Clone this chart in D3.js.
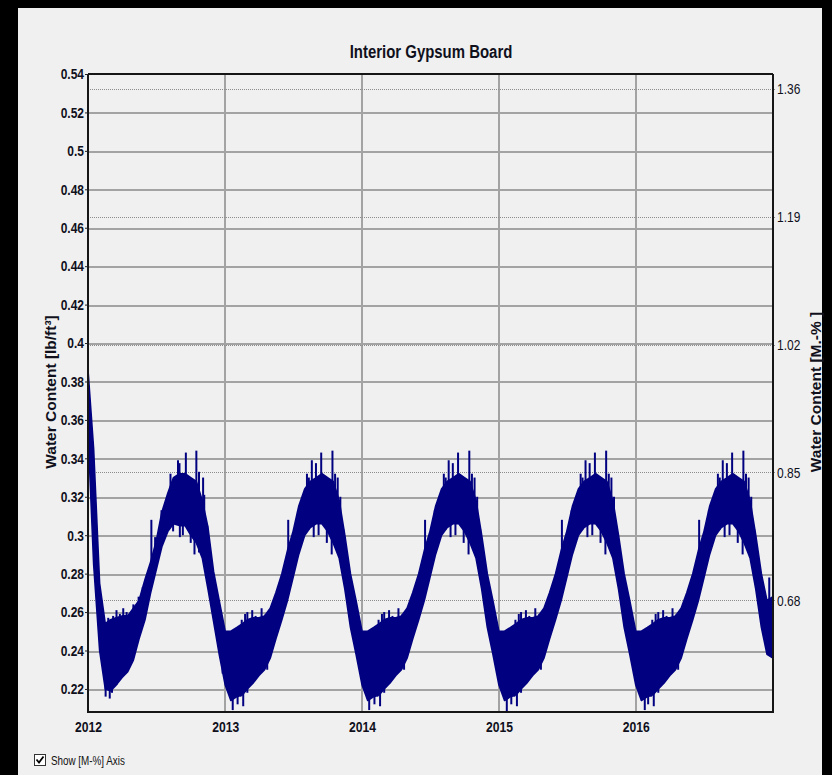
<!DOCTYPE html>
<html>
<head>
<meta charset="utf-8">
<script src="https://cdn.jsdelivr.net/npm/d3@7"></script>
<style>
  html, body { margin: 0; padding: 0; background: #000; }
  svg { display: block; }
</style>
</head>
<body>
<svg id="chart" width="832" height="775"></svg>
<script>
// ---- data -------------------------------------------------------------
const chartTitle = "Interior Gypsum Board";
const leftAxisTitle = "Water Content [lb/ft\u00B3]";
const rightAxisTitle = "Water Content [M.-% ]";
const checkboxLabel = "Show [M-%] Axis";

const years = [2012, 2013, 2014, 2015, 2016];
const yTicks = [0.22, 0.24, 0.26, 0.28, 0.3, 0.32, 0.34, 0.36, 0.38, 0.4, 0.42, 0.44, 0.46, 0.48, 0.5, 0.52, 0.54];
const massTicks = [0.68, 0.85, 1.02, 1.19, 1.36];
const massFactor = 2.555; // M.-% per lb/ft³

// band of the hourly water content: low / high envelope at the 1st and 16th of each month
const lo2012 = [0.355, 0.285, 0.240, 0.220, 0.219, 0.222, 0.226, 0.229, 0.235, 0.246, 0.256, 0.270, 0.282, 0.294, 0.302, 0.306, 0.305, 0.305, 0.300, 0.296, 0.288, 0.272, 0.255, 0.238];
const hi2012 = [0.386, 0.345, 0.275, 0.254, 0.256, 0.257, 0.258, 0.258, 0.262, 0.266, 0.277, 0.286, 0.297, 0.312, 0.322, 0.330, 0.332, 0.332, 0.330, 0.328, 0.318, 0.304, 0.281, 0.266];
const lo2013 = [0.222, 0.214, 0.216, 0.217, 0.220, 0.223, 0.227, 0.230, 0.236, 0.246, 0.256, 0.266, 0.278, 0.290, 0.300, 0.304, 0.306, 0.306, 0.302, 0.296, 0.288, 0.272, 0.252, 0.238];
const hi2013 = [0.250, 0.250, 0.252, 0.254, 0.256, 0.257, 0.257, 0.258, 0.262, 0.270, 0.280, 0.292, 0.302, 0.315, 0.324, 0.328, 0.330, 0.332, 0.330, 0.328, 0.318, 0.300, 0.280, 0.266];
const lo2014 = [0.222, 0.214, 0.216, 0.217, 0.220, 0.223, 0.227, 0.230, 0.236, 0.246, 0.256, 0.266, 0.278, 0.290, 0.300, 0.304, 0.306, 0.306, 0.302, 0.296, 0.288, 0.272, 0.252, 0.238];
const hi2014 = [0.250, 0.250, 0.252, 0.254, 0.256, 0.257, 0.257, 0.258, 0.262, 0.270, 0.280, 0.292, 0.302, 0.315, 0.324, 0.328, 0.330, 0.332, 0.330, 0.328, 0.318, 0.300, 0.280, 0.266];
const lo2015 = [0.222, 0.214, 0.216, 0.217, 0.220, 0.223, 0.227, 0.230, 0.236, 0.246, 0.256, 0.266, 0.278, 0.290, 0.300, 0.304, 0.306, 0.306, 0.302, 0.296, 0.288, 0.272, 0.252, 0.238];
const hi2015 = [0.250, 0.250, 0.252, 0.254, 0.256, 0.257, 0.257, 0.258, 0.262, 0.270, 0.280, 0.292, 0.302, 0.315, 0.324, 0.328, 0.330, 0.332, 0.330, 0.328, 0.318, 0.300, 0.280, 0.266];
const lo2016 = [0.222, 0.214, 0.216, 0.217, 0.220, 0.223, 0.227, 0.230, 0.236, 0.246, 0.256, 0.266, 0.278, 0.290, 0.300, 0.304, 0.306, 0.306, 0.302, 0.296, 0.288, 0.272, 0.252, 0.238];
const hi2016 = [0.250, 0.250, 0.252, 0.254, 0.256, 0.257, 0.257, 0.258, 0.262, 0.270, 0.280, 0.292, 0.302, 0.315, 0.324, 0.328, 0.330, 0.332, 0.330, 0.328, 0.318, 0.300, 0.280, 0.266];
const endDate = "2017-01-01";
const endLo = 0.236;
const endHi = 0.268;

// short excursions beyond the band, [month-day, value] per year
const spikes2012 = [["02-17", 0.216], ["02-24", 0.257], ["02-28", 0.215], ["03-05", 0.218], ["03-08", 0.258], ["03-17", 0.261], ["03-17", 0.222], ["03-26", 0.259], ["04-04", 0.262], ["04-08", 0.228], ["04-13", 0.260], ["04-22", 0.259], ["05-01", 0.264], ["05-15", 0.268], ["05-26", 0.273], ["06-18", 0.308], ["06-28", 0.299], ["07-15", 0.313], ["07-30", 0.320], ["08-08", 0.332], ["08-15", 0.328], ["08-15", 0.302], ["08-28", 0.339], ["09-01", 0.3375], ["09-02", 0.299], ["09-10", 0.332], ["09-10", 0.300], ["09-18", 0.343], ["09-24", 0.330], ["10-01", 0.296], ["10-03", 0.327], ["10-11", 0.290], ["10-16", 0.344], ["10-23", 0.291], ["10-23", 0.333], ["11-03", 0.330], ["11-06", 0.321], ["11-14", 0.305], ["12-25", 0.228]];
const spikes2013 = [["01-21", 0.209], ["01-28", 0.216], ["02-03", 0.212], ["02-11", 0.216], ["02-14", 0.256], ["02-18", 0.211], ["02-23", 0.259], ["03-01", 0.260], ["03-01", 0.218], ["03-14", 0.261], ["03-14", 0.223], ["03-23", 0.258], ["04-01", 0.228], ["04-08", 0.262], ["04-19", 0.259], ["04-23", 0.230], ["05-02", 0.260], ["05-15", 0.268], ["05-24", 0.273], ["06-18", 0.308], ["06-28", 0.299], ["07-14", 0.313], ["07-29", 0.320], ["08-07", 0.332], ["08-12", 0.330], ["08-12", 0.303], ["08-20", 0.339], ["08-25", 0.299], ["08-31", 0.3375], ["09-07", 0.330], ["09-07", 0.300], ["09-14", 0.343], ["09-20", 0.331], ["09-29", 0.296], ["10-04", 0.327], ["10-12", 0.290], ["10-14", 0.344], ["10-21", 0.332], ["10-26", 0.292], ["10-28", 0.330], ["11-04", 0.320], ["11-12", 0.303]];
const spikes2014 = [["01-20", 0.209], ["01-28", 0.216], ["02-03", 0.212], ["02-11", 0.216], ["02-14", 0.256], ["02-18", 0.211], ["02-23", 0.259], ["03-01", 0.260], ["03-01", 0.218], ["03-14", 0.261], ["03-14", 0.223], ["03-23", 0.258], ["04-01", 0.228], ["04-08", 0.262], ["04-19", 0.259], ["04-23", 0.230], ["05-02", 0.260], ["05-15", 0.268], ["05-24", 0.273], ["06-18", 0.308], ["06-28", 0.299], ["07-14", 0.313], ["07-29", 0.320], ["08-07", 0.332], ["08-12", 0.330], ["08-12", 0.303], ["08-20", 0.339], ["08-25", 0.299], ["08-31", 0.3375], ["09-07", 0.330], ["09-07", 0.300], ["09-14", 0.343], ["09-20", 0.331], ["09-29", 0.296], ["10-04", 0.327], ["10-12", 0.290], ["10-14", 0.344], ["10-21", 0.332], ["10-26", 0.292], ["10-28", 0.330], ["11-04", 0.320], ["11-12", 0.303]];
const spikes2015 = [["01-22", 0.208], ["01-28", 0.216], ["02-03", 0.212], ["02-11", 0.216], ["02-14", 0.256], ["02-18", 0.211], ["02-23", 0.259], ["03-01", 0.260], ["03-01", 0.218], ["03-14", 0.261], ["03-14", 0.223], ["03-23", 0.258], ["04-01", 0.228], ["04-08", 0.262], ["04-19", 0.259], ["04-23", 0.230], ["05-02", 0.260], ["05-15", 0.268], ["05-24", 0.273], ["06-18", 0.308], ["06-28", 0.299], ["07-14", 0.313], ["07-29", 0.320], ["08-07", 0.332], ["08-12", 0.330], ["08-12", 0.303], ["08-20", 0.339], ["08-25", 0.299], ["08-31", 0.3375], ["09-07", 0.330], ["09-07", 0.300], ["09-14", 0.343], ["09-20", 0.331], ["09-29", 0.296], ["10-04", 0.327], ["10-12", 0.290], ["10-14", 0.344], ["10-21", 0.332], ["10-26", 0.292], ["10-28", 0.330], ["11-04", 0.320], ["11-12", 0.303]];
const spikes2016 = [["01-25", 0.209], ["01-28", 0.216], ["02-03", 0.212], ["02-11", 0.216], ["02-14", 0.256], ["02-18", 0.211], ["02-23", 0.259], ["03-01", 0.260], ["03-01", 0.218], ["03-14", 0.261], ["03-14", 0.223], ["03-23", 0.258], ["04-01", 0.228], ["04-08", 0.262], ["04-19", 0.259], ["04-23", 0.230], ["05-02", 0.260], ["05-15", 0.268], ["05-24", 0.273], ["06-18", 0.308], ["06-28", 0.299], ["07-14", 0.313], ["07-29", 0.320], ["08-07", 0.332], ["08-12", 0.330], ["08-12", 0.303], ["08-20", 0.339], ["08-25", 0.299], ["08-31", 0.3375], ["09-07", 0.330], ["09-07", 0.300], ["09-14", 0.343], ["09-20", 0.331], ["09-29", 0.296], ["10-04", 0.327], ["10-12", 0.290], ["10-14", 0.344], ["10-21", 0.332], ["10-26", 0.292], ["10-28", 0.330], ["11-04", 0.320], ["11-12", 0.303], ["12-22", 0.278]];

// ---- layout -----------------------------------------------------------
const W = 832, H = 775;
const plot = { left: 88, right: 773, top: 74, bottom: 712 };
const sans = "'Liberation Sans', Arial, sans-serif";
const ink = "#10101c";
const navy = "#000080";

// Liberation Sans squeezed to the proportions of a narrow face
function condense(sel, k) {
  sel.each(function () {
    const len = this.getComputedTextLength();
    d3.select(this).attr("textLength", len * k).attr("lengthAdjust", "spacingAndGlyphs");
  });
}

const svg = d3.select("#chart");
svg.append("rect").attr("width", W).attr("height", H).attr("fill", "#000");
svg.append("rect").attr("x", 18).attr("y", 8).attr("width", W - 28).attr("height", H - 8).attr("fill", "#f0f0f0");

const x = d3.scaleTime().domain([new Date(2012, 0, 1), new Date(2017, 0, 1)]).range([plot.left, plot.right]);
const y = d3.scaleLinear().domain([0.208, 0.54]).range([plot.bottom, plot.top]);
const yMass = d3.scaleLinear().domain([0.208 * massFactor, 0.54 * massFactor]).range([plot.bottom, plot.top]);

// ---- grid -------------------------------------------------------------
const grid = svg.append("g").attr("shape-rendering", "crispEdges");
grid.selectAll("line.h").data(yTicks.slice(0, -1)).join("line")
  .attr("x1", plot.left).attr("x2", plot.right)
  .attr("y1", d => Math.round(y(d)) + 0.5).attr("y2", d => Math.round(y(d)) + 0.5)
  .attr("stroke", "#a3a3a3").attr("stroke-width", 2);
grid.selectAll("line.v").data(years.slice(1)).join("line")
  .attr("x1", d => Math.round(x(new Date(d, 0, 1)))).attr("x2", d => Math.round(x(new Date(d, 0, 1))))
  .attr("y1", plot.top).attr("y2", plot.bottom)
  .attr("stroke", "#a3a3a3").attr("stroke-width", 2);
grid.selectAll("line.m").data(massTicks).join("line")
  .attr("x1", plot.left).attr("x2", plot.right + 3)
  .attr("y1", d => Math.round(yMass(d)) + 0.5).attr("y2", d => Math.round(yMass(d)) + 0.5)
  .attr("stroke", "#8c8c8c").attr("stroke-width", 1).attr("stroke-dasharray", "1,1");

// ---- series -----------------------------------------------------------
const parse = d3.timeParse("%Y-%m-%d");
const loByYear = [lo2012, lo2013, lo2014, lo2015, lo2016];
const hiByYear = [hi2012, hi2013, hi2014, hi2015, hi2016];
const spikesByYear = [spikes2012, spikes2013, spikes2014, spikes2015, spikes2016];
const band = [];
years.forEach((yr, k) => {
  loByYear[k].forEach((v, i) => {
    band.push({ date: new Date(yr, Math.floor(i / 2), i % 2 ? 16 : 1), lo: v, hi: hiByYear[k][i] });
  });
});
band.push({ date: parse(endDate), lo: endLo, hi: endHi });

svg.append("clipPath").attr("id", "plotClip")
  .append("rect").attr("x", plot.left).attr("y", plot.top)
  .attr("width", plot.right - plot.left).attr("height", plot.bottom - plot.top);

const series = svg.append("g").attr("clip-path", "url(#plotClip)");
series.append("path").datum(band)
  .attr("d", d3.area().x(d => x(d.date)).y0(d => y(d.lo)).y1(d => y(d.hi)))
  .attr("fill", navy).attr("stroke", navy).attr("stroke-width", 1.6).attr("stroke-linejoin", "round");

const bisect = d3.bisector(d => d.date).left;
function bandMid(date) {
  const i = Math.max(1, Math.min(band.length - 1, bisect(band, date)));
  const a = band[i - 1], b = band[i];
  const t = (date - a.date) / (b.date - a.date);
  return ((a.lo + a.hi) / 2) * (1 - t) + ((b.lo + b.hi) / 2) * t;
}
const spikes = [];
years.forEach((yr, k) => spikesByYear[k].forEach(([md, v]) => spikes.push({ date: parse(`${yr}-${md}`), v })));
series.selectAll("line.spike").data(spikes).join("line")
  .attr("x1", d => x(d.date)).attr("x2", d => x(d.date))
  .attr("y1", d => y(bandMid(d.date))).attr("y2", d => y(d.v))
  .attr("stroke", navy).attr("stroke-width", 2);

// ---- frame ------------------------------------------------------------
const frame = svg.append("g").attr("stroke", "#161616").attr("shape-rendering", "crispEdges");
frame.append("line").attr("x1", plot.left).attr("x2", plot.right).attr("y1", plot.top).attr("y2", plot.top).attr("stroke-width", 1.5);
frame.append("line").attr("x1", plot.left).attr("x2", plot.left).attr("y1", plot.top).attr("y2", plot.bottom + 1).attr("stroke-width", 2);
frame.append("line").attr("x1", plot.right).attr("x2", plot.right).attr("y1", plot.top).attr("y2", plot.bottom + 1).attr("stroke-width", 2);
frame.append("line").attr("x1", plot.left - 1).attr("x2", plot.right + 1).attr("y1", plot.bottom).attr("y2", plot.bottom).attr("stroke-width", 2.5);

// ---- axes -------------------------------------------------------------
const fmt = d => String(+d.toFixed(2));
const leftAxis = svg.append("g").attr("transform", `translate(${plot.left},0)`)
  .call(d3.axisLeft(y).tickValues(yTicks).tickSize(3).tickPadding(1).tickFormat(fmt));
leftAxis.select(".domain").remove();
leftAxis.selectAll(".tick line").attr("stroke", "#222");
leftAxis.selectAll(".tick text").attr("font-family", sans).attr("font-weight", "bold")
  .attr("font-size", 15).attr("fill", ink).call(condense, 0.8);

const rightAxis = svg.append("g").attr("transform", `translate(${plot.right},0)`)
  .call(d3.axisRight(yMass).tickValues(massTicks).tickSize(3).tickPadding(1).tickFormat(d => d.toFixed(2)));
rightAxis.select(".domain").remove();
rightAxis.selectAll(".tick line").remove();
rightAxis.selectAll(".tick text").attr("font-family", sans).attr("font-size", 15).attr("fill", ink)
  .call(condense, 0.8);

const bottomAxis = svg.append("g").attr("transform", `translate(0,${plot.bottom})`)
  .call(d3.axisBottom(x).tickValues(years.map(yr => new Date(yr, 0, 1))).tickSize(0).tickPadding(9)
    .tickFormat(d3.timeFormat("%Y")));
bottomAxis.select(".domain").remove();
bottomAxis.selectAll(".tick text").attr("font-family", sans).attr("font-weight", "bold")
  .attr("font-size", 15).attr("fill", ink).call(condense, 0.81);

// ---- titles -----------------------------------------------------------
svg.append("text").attr("x", 431).attr("y", 58).attr("text-anchor", "middle")
  .attr("font-family", sans).attr("font-weight", "bold").attr("font-size", 18).attr("fill", ink)
  .text(chartTitle).call(condense, 0.83);
svg.append("text").attr("transform", "translate(56,392) rotate(-90)").attr("text-anchor", "middle")
  .attr("font-family", sans).attr("font-weight", "bold").attr("font-size", 15.5).attr("fill", ink)
  .text(leftAxisTitle);
svg.append("text").attr("transform", "translate(821,392) rotate(-90)").attr("text-anchor", "middle")
  .attr("font-family", sans).attr("font-weight", "bold").attr("font-size", 15.5).attr("fill", ink)
  .text(rightAxisTitle);

// ---- checkbox ---------------------------------------------------------
const cb = svg.append("g").attr("transform", "translate(34,754)");
cb.append("rect").attr("x", 0.5).attr("y", 0.5).attr("width", 11).attr("height", 11)
  .attr("fill", "#fff").attr("stroke", "#333").attr("shape-rendering", "crispEdges");
cb.append("path").attr("d", "M2.5,5.5 L5,8.5 L9.5,2.5").attr("fill", "none")
  .attr("stroke", "#000").attr("stroke-width", 1.8);
svg.append("text").attr("x", 51).attr("y", 764.5)
  .attr("font-family", sans).attr("font-size", 12).attr("fill", "#111")
  .text(checkboxLabel).call(condense, 0.82);
</script>
</body>
</html>
